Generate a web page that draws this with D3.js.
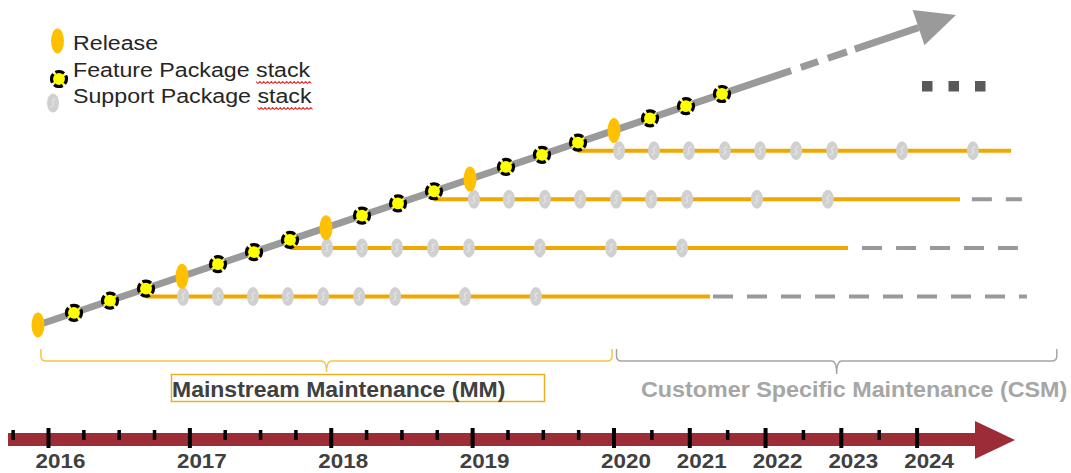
<!DOCTYPE html>
<html>
<head>
<meta charset="utf-8">
<script src="https://cdn.jsdelivr.net/npm/d3@7"></script>
<style>
  body { margin: 0; background: #fff; }
  svg { display: block; font-family: Arial, "Liberation Sans", sans-serif; }
</style>
</head>
<body>
<script>
(function(){

//release plan, positions in quarters along the diagonal trunk
var releaseQ = [0, 4, 8, 12, 16];
var featureQ = [1, 2, 3, 5, 6, 7, 9, 10, 11, 13, 14, 15, 17, 18, 19];

//one maintenance line per release (branches at the feature package before it)
var lineStartQ = [3, 7, 11, 15];
var lineEndQ = [18.67, 22.5, 25.61, 27.03];
var lineDashStartQ = [18.75, 22.89, 25.94, null];
var lineDashEndQ = [27.47, 27.22, 27.33, null];
var supportQ = [
    [4.03, 5, 5.97, 6.94, 7.92, 8.92, 9.92, 11.86, 13.83],
    [8.03, 9, 9.97, 10.97, 11.97, 13.94, 15.92, 17.89],
    [12.11, 13.08, 14.08, 15.06, 16.06, 17.03, 18.03, 19.97, 21.94],
    [16.14, 17.11, 18.08, 19.08, 20.06, 21.06, 22.06, 24, 25.97]
];

//trunk: solid part, two dashes, solid part up to the arrow head
var trunkSegments = [[0, 20.92], [21.19, 21.67], [21.94, 22.47], [22.69, 24.46]];
var trunkArrowBase = 24.46,
    trunkArrowTip = 25.5;

//time axis
var axisYears = [2016, 2017, 2018, 2019, 2020, 2021, 2022, 2023, 2024];
var minorTicks = [2015.75, 2016.25, 2016.5, 2016.75, 2017.25, 2017.5, 2017.75,
    2018.25, 2018.5, 2018.75, 2019.25, 2019.5, 2019.75,
    2020.5, 2021.5, 2022.5, 2023.5];

//maintenance phases
var phaseNames = ["Mainstream Maintenance (MM)", "Customer Specific Maintenance (CSM)"];
var phaseFrom = [2015.95, 2020.04];
var phaseTo = [2019.99, 2025.85];

var legendLabels = ["Release", "Feature Package stack", "Support Package stack"];

var width = 1071,
    height = 473;

var orange = "#efa800",
    gold = "#ffc000",
    trunkGray = "#9a9a9a",
    spGray = "#d0d0d0";

var svg = d3.select("body")
    .append("svg")
    .attr("width", width)
    .attr("height", height);

//scales for the diagonal diagram
var xQ = d3.scaleLinear().domain([0, 19]).range([38, 722]);
var yQ = d3.scaleLinear().domain([0, 19]).range([325, 94]);
var lineDrop = 8; //maintenance lines sit just under the trunk

//scale for the bottom time axis (compressed after 2020)
var xT = d3.scaleLinear().domain([2016, 2020, 2024]).range([48, 613.5, 916.6]);

function stretchedText(parent, x, y, str, size, sx, weight, fill) {
    var g = parent.append("g")
        .attr("transform", "translate(" + x + "," + y + ") scale(" + sx + ",1)");
    g.append("text")
        .attr("font-size", size)
        .attr("font-weight", weight)
        .attr("fill", fill)
        .text(str);
    return g;
}

function drawFeature(parent, cx, cy) {
    parent.append("circle")
        .attr("cx", cx)
        .attr("cy", cy)
        .attr("r", 7.5)
        .attr("fill", "#ffff00")
        .attr("stroke", "#000")
        .attr("stroke-width", 3.2)
        .attr("stroke-dasharray", "9.2 2.6")
        .attr("stroke-dashoffset", 4);
}

function drawSupport(parent, cx, cy) {
    parent.append("ellipse")
        .attr("cx", cx)
        .attr("cy", cy)
        .attr("rx", 6)
        .attr("ry", 9.5)
        .attr("fill", spGray);
    parent.append("path")
        .attr("d", "M" + (cx + 2.5) + "," + (cy - 4) + " Q" + (cx - 2) + "," + (cy - 3) + " " + cx + "," + cy +
            " Q" + (cx + 2) + "," + (cy + 3) + " " + (cx - 2.5) + "," + (cy + 4))
        .attr("fill", "none")
        .attr("stroke", "#e4e4e4")
        .attr("stroke-width", 1.3);
}

function drawRelease(parent, cx, cy) {
    parent.append("ellipse")
        .attr("cx", cx)
        .attr("cy", cy)
        .attr("rx", 6.5)
        .attr("ry", 12.5)
        .attr("fill", gold);
}

//---------- maintenance lines ----------
var lines = svg.append("g").attr("class", "lines");
lineStartQ.forEach(function(s, i){
    var y = yQ(s) + lineDrop;
    lines.append("line")
        .attr("x1", xQ(s)).attr("x2", xQ(lineEndQ[i]))
        .attr("y1", y).attr("y2", y)
        .attr("stroke", orange)
        .attr("stroke-width", 4);
    if (lineDashStartQ[i] != null) {
        lines.append("line")
            .attr("x1", xQ(lineDashStartQ[i])).attr("x2", xQ(lineDashEndQ[i]))
            .attr("y1", y).attr("y2", y)
            .attr("stroke", "#999")
            .attr("stroke-width", 4)
            .attr("stroke-dasharray", "20 14");
    }
    supportQ[i].forEach(function(q){
        drawSupport(lines, xQ(q), y);
    });
});

//---------- trunk ----------
var trunk = svg.append("g").attr("class", "trunk");
trunk.selectAll(".seg")
    .data(trunkSegments)
    .enter()
    .append("line")
    .attr("class", "seg")
    .attr("x1", function(d){ return xQ(d[0]); })
    .attr("y1", function(d){ return yQ(d[0]); })
    .attr("x2", function(d){ return xQ(d[1]); })
    .attr("y2", function(d){ return yQ(d[1]); })
    .attr("stroke", trunkGray)
    .attr("stroke-width", 7);

var bx = xQ(trunkArrowBase), by = yQ(trunkArrowBase),
    tx = xQ(trunkArrowTip), ty = yQ(trunkArrowTip);
var len = Math.sqrt((tx - bx) * (tx - bx) + (ty - by) * (ty - by));
var nx = -(ty - by) / len * 18.5, ny = (tx - bx) / len * 18.5;
trunk.append("polygon")
    .attr("points", [[bx + nx, by + ny], [tx, ty], [bx - nx, by - ny]].map(function(p){ return p.join(","); }).join(" "))
    .attr("fill", trunkGray);

releaseQ.forEach(function(q){ drawRelease(trunk, xQ(q), yQ(q)); });
featureQ.forEach(function(q){ drawFeature(trunk, xQ(q), yQ(q)); });

//"more to come" squares
svg.append("g").selectAll("rect")
    .data([0, 1, 2])
    .enter()
    .append("rect")
    .attr("x", function(d){ return 922 + d * 26.5; })
    .attr("y", 81)
    .attr("width", 10.5)
    .attr("height", 10.5)
    .attr("fill", "#595959");

//---------- legend ----------
var legend = svg.append("g").attr("class", "legend");
drawRelease(legend, 57.5, 41);
drawFeature(legend, 59, 79);
drawSupport(legend, 53, 103);
var legendY = [50, 77, 103];
legendLabels.forEach(function(label, i){
    var g = stretchedText(legend, 73, legendY[i], label, 19.5, 1.19, "normal", "#262626");
    var idx = label.indexOf("stack");
    if (idx >= 0) {
        var node = g.select("text").node();
        var x0 = node.getStartPositionOfChar(idx).x,
            x1 = node.getEndPositionOfChar(label.length - 1).x;
        var d = "M" + x0 + ",4.5";
        for (var x = x0, k = 0; x < x1; x += 1.6, k++) {
            d += " L" + (x + 1.6) + "," + (k % 2 ? 4.5 : 6.5);
        }
        g.append("path")
            .attr("d", d)
            .attr("fill", "none")
            .attr("stroke", "#e03030")
            .attr("stroke-width", 0.9);
    }
});

//---------- phase braces ----------
function bracePath(x0, x1, yTop, yMid, yTip) {
    var xm = (x0 + x1) / 2, r = 5;
    return "M" + x0 + "," + yTop +
        " L" + x0 + "," + (yMid - r) +
        " Q" + x0 + "," + yMid + " " + (x0 + r) + "," + yMid +
        " L" + (xm - r) + "," + yMid +
        " Q" + xm + "," + yMid + " " + xm + "," + yTip +
        " Q" + xm + "," + yMid + " " + (xm + r) + "," + yMid +
        " L" + (x1 - r) + "," + yMid +
        " Q" + x1 + "," + yMid + " " + x1 + "," + (yMid - r) +
        " L" + x1 + "," + yTop;
}

var braceColors = ["#f7c448", "#a6a6a6"];
var braceTip = [372, 374];
var phases = svg.append("g").attr("class", "phases");
phaseNames.forEach(function(name, i){
    phases.append("path")
        .attr("d", bracePath(xT(phaseFrom[i]), xT(phaseTo[i]), 349, 361, braceTip[i]))
        .attr("fill", "none")
        .attr("stroke", braceColors[i])
        .attr("stroke-width", 1.5);
});
phases.append("rect")
    .attr("x", 171.5)
    .attr("y", 374.5)
    .attr("width", 373)
    .attr("height", 27)
    .attr("fill", "none")
    .attr("stroke", "#f0ae1e")
    .attr("stroke-width", 1.5);
stretchedText(phases, 172, 397, phaseNames[0], 21.5, 1.07, "bold", "#404040");
stretchedText(phases, 641, 397, phaseNames[1], 21.5, 1.085, "bold", "#a6a6a6");

//---------- time axis ----------
var axisG = svg.append("g").attr("class", "timeAxis");
axisG.append("rect")
    .attr("x", 8)
    .attr("y", 433)
    .attr("width", 976 - 8)
    .attr("height", 13)
    .attr("fill", "#9c2c36");
axisG.append("polygon")
    .attr("points", "975,421 1015,440 975,459")
    .attr("fill", "#9c2c36");

var minorAxis = axisG.append("g")
    .attr("transform", "translate(0,430)")
    .call(d3.axisBottom(xT).tickValues(minorTicks).tickSize(10).tickFormat(""));
minorAxis.select(".domain").remove();
minorAxis.selectAll(".tick line").attr("stroke", "#000").attr("stroke-width", 3.5);

var majorAxis = axisG.append("g")
    .attr("transform", "translate(0,428)")
    .call(d3.axisBottom(xT).tickValues(axisYears).tickSize(20).tickFormat(d3.format("d")));
majorAxis.select(".domain").remove();
majorAxis.selectAll(".tick line").attr("stroke", "#000").attr("stroke-width", 4);
majorAxis.selectAll(".tick text")
    .attr("y", 0)
    .attr("dy", 0)
    .attr("transform", "translate(12,40) scale(1.12,1)")
    .attr("fill", "#404040")
    .attr("font-size", 20)
    .attr("font-weight", "bold")
    .attr("font-family", "Arial, 'Liberation Sans', sans-serif");

})();
</script>
</body>
</html>
